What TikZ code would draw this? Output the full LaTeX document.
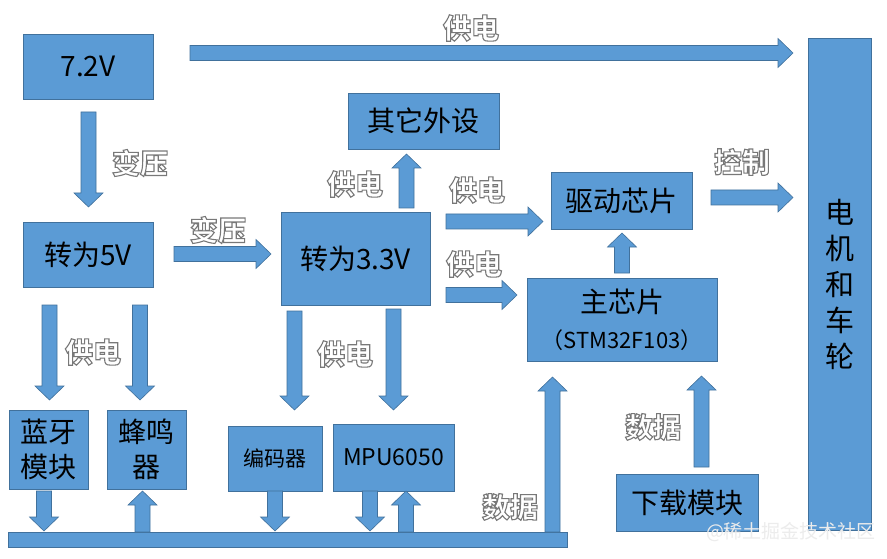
\documentclass[tikz,border=0pt]{standalone}
\usepackage{fontspec}
\setmainfont{Noto Sans CJK SC}
\definecolor{bfill}{HTML}{5B9BD5}
\definecolor{bline}{HTML}{41719C}
% outlined label text: white fill, grey stroke (PDF text render mode 2)
\newcommand\olab[1]{\leavevmode\special{pdf:literal direct 2 Tr 1.1 w 0.47 0.47 0.47 RG 1 1 1 rg}#1\special{pdf:literal direct 0 Tr 0 0 0 rg 0 0 0 RG}}
% block arrows: R (x1, xtip, yc), U/D (xc, y1, ytip)
\newcommand\arR[3]{\filldraw[barrow] (#1,#3-7.5) -- (#2-15,#3-7.5) -- (#2-15,#3-14.5) -- (#2,#3) -- (#2-15,#3+14.5) -- (#2-15,#3+7.5) -- (#1,#3+7.5) -- cycle;}
\newcommand\arD[3]{\filldraw[barrow] (#1-7.5,#2) -- (#1-7.5,#3-14) -- (#1-14.5,#3-14) -- (#1,#3) -- (#1+14.5,#3-14) -- (#1+7.5,#3-14) -- (#1+7.5,#2) -- cycle;}
\newcommand\arU[3]{\filldraw[barrow] (#1-7.5,#2) -- (#1-7.5,#3+14) -- (#1-14.5,#3+14) -- (#1,#3) -- (#1+14.5,#3+14) -- (#1+7.5,#3+14) -- (#1+7.5,#2) -- cycle;}
\begin{document}
\begin{tikzpicture}[x=1pt,y=-1pt,
  box/.style={draw=bline,fill=bfill,line width=0.8pt,inner sep=0pt,align=center,font=\fontsize{28}{34}\selectfont},
  barrow/.style={draw=bline,fill=bfill,line width=0.6pt},
  lab/.style={inner sep=0pt,font=\fontsize{28}{30}\selectfont\bfseries}]
\useasboundingbox[fill=white] (0,0) rectangle (887,559);
% boxes
\node[box,minimum width=130,minimum height=65] (v72) at (88,66.5) {7.2V};
\node[box,minimum width=130,minimum height=65] (v5) at (88,254.5) {转为5V};
\node[box,minimum width=149,minimum height=93] (v33) at (355.5,258.5) {转为3.3V};
\node[box,minimum width=151,minimum height=56] (other) at (423.5,121) {其它外设};
\node[box,minimum width=141,minimum height=57] (drv) at (621.5,200.5) {驱动芯片};
\node[box,minimum width=190,minimum height=83,font=\fontsize{28}{38}\selectfont] (mcu) at (622,319.5) {主芯片\\[-2pt]{\fontsize{22}{24}\selectfont （STM32F103）}};
\node[box,minimum width=63,minimum height=492,font=\fontsize{29}{36}\selectfont] (motor) at (839.5,284) {电\\机\\和\\车\\轮};
\node[box,minimum width=79,minimum height=79,font=\fontsize{28}{35}\selectfont] (bt) at (48.5,449.5) {蓝牙\\模块};
\node[box,minimum width=79,minimum height=79,font=\fontsize{28}{35}\selectfont] (buz) at (146.5,449.5) {蜂鸣\\器};
\node[box,minimum width=94,minimum height=65,font=\fontsize{21}{24}\selectfont] (enc) at (275,458.5) {编码器};
\node[box,minimum width=121,minimum height=67,font=\fontsize{23}{26}\selectfont] (mpu) at (393.5,457.5) {MPU6050};
\node[box,minimum width=142,minimum height=57] (dl) at (687,502.5) {下载模块};
% bus
\filldraw[barrow] (8,532) rectangle (567,547);
% arrows
\arR{190}{793}{53}
\arD{88.5}{112}{207}
\arR{174}{271}{254}
\arU{406.5}{208}{154}
\arR{446}{543}{221.5}
\arR{711}{793}{197.5}
\arU{622}{273}{233}
\arR{446}{517}{295}
\arU{552.5}{532}{377}
\arU{701.5}{467}{376}
\arD{49.5}{305}{400}
\arD{140}{305}{400}
\arD{294.5}{311}{410}
\arD{393.5}{309}{410}
\arD{44}{491}{531}
\arU{142.5}{532}{491}
\arD{275}{491}{531}
\arD{370}{491}{531}
\arU{406}{532}{491}
% labels
\node[lab] (l1) at (471,28) {\olab{供电}};
\node[lab] (l2) at (140,163) {\olab{变压}};
\node[lab] (l3) at (218,230) {\olab{变压}};
\node[lab] (l4) at (355,184) {\olab{供电}};
\node[lab] (l5) at (477,190) {\olab{供电}};
\node[lab] (l6) at (742,162) {\olab{控制}};
\node[lab] (l7) at (474,264) {\olab{供电}};
\node[lab] (l8) at (93,352) {\olab{供电}};
\node[lab] (l9) at (345,354) {\olab{供电}};
\node[lab] (l10) at (510,507) {\olab{数据}};
\node[lab] (l11) at (653,427) {\olab{数据}};
\node[inner sep=0pt,text=white!85!gray,font=\fontsize{19}{20}\selectfont] (wm) at (791,532) {@稀土掘金技术社区};
\end{tikzpicture}
\end{document}
